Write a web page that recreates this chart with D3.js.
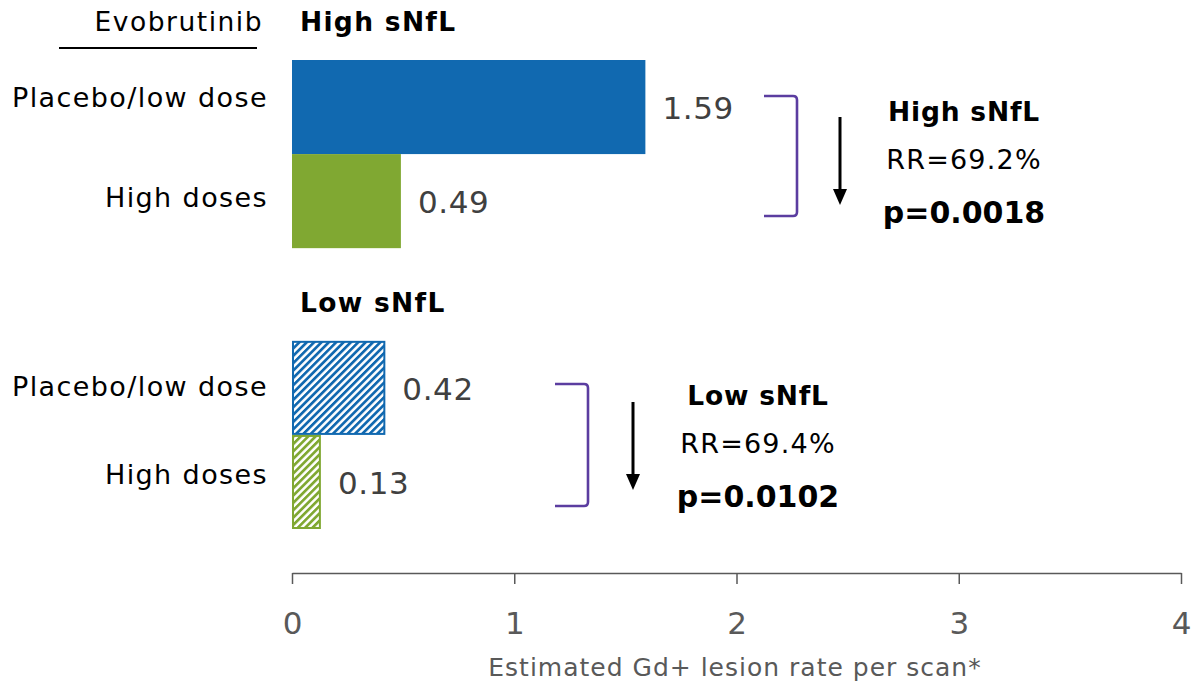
<!DOCTYPE html>
<html><head><meta charset="utf-8">
<script src="https://cdn.jsdelivr.net/npm/d3@7"></script>
<style>body{margin:0;background:#fff}svg{display:block}text{font-family:"DejaVu Sans",Verdana,sans-serif}</style>
</head><body><svg id="c" width="1194" height="682"></svg>
<script>
const groups = ["High sNfL", "Low sNfL"];
const categories = ["Placebo/low dose", "High doses"];
const highValues = [1.59, 0.49];
const lowValues = [0.42, 0.13];
const xTicks = [0, 1, 2, 3, 4];
const stats = [
  {group: "High sNfL", rr: "RR=69.2%", p: "p=0.0018"},
  {group: "Low sNfL", rr: "RR=69.4%", p: "p=0.0102"}
];
const colors = ["#1169b0", "#80a832"];

const svg = d3.select("#c");
const defs = svg.append("defs");
colors.forEach((c, i) => {
  const p = defs.append("pattern").attr("id", "hatch" + i).attr("patternUnits", "userSpaceOnUse")
    .attr("width", 5.2).attr("height", 5.2).attr("patternTransform", "rotate(45)");
  p.append("rect").attr("width", 5.2).attr("height", 5.2).attr("fill", "#fff");
  p.append("rect").attr("width", 2.7).attr("height", 5.2).attr("fill", c);
});

const x = d3.scaleLinear().domain([0, 4]).range([292, 1181]);
const yG = d3.scaleBand().domain(groups).range([60, 529]).paddingInner(0.33).paddingOuter(0);
const yC = d3.scaleBand().domain(categories).range([0, yG.bandwidth()]).padding(0);

const data = [
  {group: groups[0], values: highValues, hatched: false, labelOffsets: [-9, -4]},
  {group: groups[1], values: lowValues, hatched: true, labelOffsets: [-1, -7]}
];

data.forEach(g => {
  const g0 = yG(g.group);
  svg.append("text").attr("x", 300).attr("y", g0 - 38).attr("dy", "0.35em").attr("font-size", 26.5)
    .attr("font-weight", "bold").attr("letter-spacing", 1.3).attr("fill", "#000").text(g.group);
  categories.forEach((c, i) => {
    const v = g.values[i];
    const y0 = g0 + yC(c);
    const h = yC.bandwidth();
    if (g.hatched) {
      svg.append("rect").attr("x", x(0) + 1).attr("y", y0 + 1).attr("width", x(v) - x(0) - 2).attr("height", h - 2)
        .attr("fill", `url(#hatch${i})`).attr("stroke", colors[i]).attr("stroke-width", 2);
    } else {
      svg.append("rect").attr("x", x(0)).attr("y", y0).attr("width", x(v) - x(0)).attr("height", h)
        .attr("fill", colors[i]);
    }
    svg.append("text").attr("x", x(v) + 17).attr("y", y0 + h / 2 + 1).attr("dy", "0.35em")
      .attr("font-size", 31).attr("letter-spacing", 0.6).attr("fill", "#404040").text(v.toFixed(2));
    svg.append("text").attr("x", 268).attr("y", y0 + h / 2 + g.labelOffsets[i]).attr("dy", "0.35em")
      .attr("text-anchor", "end").attr("font-size", 27).attr("letter-spacing", 1.4).attr("fill", "#000").text(c);
  });
});

// header
svg.append("text").attr("x", 263).attr("y", 22).attr("dy", "0.35em").attr("text-anchor", "end")
  .attr("font-size", 26.5).attr("letter-spacing", 1.5).attr("fill", "#000").text("Evobrutinib");
svg.append("line").attr("x1", 59).attr("x2", 257).attr("y1", 48).attr("y2", 48).attr("stroke", "#000").attr("stroke-width", 2);

// brackets, arrows and stats
const annot = [
  {bx: 797, by0: 96, by1: 216, ax: 840, ay0: 117, ay1: 205, tx: 964, ty: 112},
  {bx: 588, by0: 384, by1: 506, ax: 633, ay0: 402, ay1: 490, tx: 758, ty: 396}
];
stats.forEach((s, i) => {
  const a = annot[i];
  const r = 4;
  svg.append("path").attr("fill", "none").attr("stroke", "#5b3da0").attr("stroke-width", 2.6)
    .attr("d", `M${a.bx - 33},${a.by0} L${a.bx - r},${a.by0} Q${a.bx},${a.by0} ${a.bx},${a.by0 + r} L${a.bx},${a.by1 - r} Q${a.bx},${a.by1} ${a.bx - r},${a.by1} L${a.bx - 33},${a.by1}`);
  svg.append("line").attr("x1", a.ax).attr("x2", a.ax).attr("y1", a.ay0).attr("y2", a.ay1 - 14)
    .attr("stroke", "#000").attr("stroke-width", 3);
  svg.append("path").attr("fill", "#000")
    .attr("d", `M${a.ax - 7},${a.ay1 - 16} L${a.ax + 7},${a.ay1 - 16} L${a.ax},${a.ay1} Z`);
  svg.append("text").attr("x", a.tx).attr("y", a.ty).attr("dy", "0.35em").attr("text-anchor", "middle")
    .attr("font-size", 26.5).attr("font-weight", "bold").attr("letter-spacing", 0.8).attr("fill", "#000").text(s.group);
  svg.append("text").attr("x", a.tx).attr("y", a.ty + 48).attr("dy", "0.35em").attr("text-anchor", "middle")
    .attr("font-size", 27).attr("letter-spacing", 1.2).attr("fill", "#000").text(s.rr);
  svg.append("text").attr("x", a.tx).attr("y", a.ty + 100).attr("dy", "0.35em").attr("text-anchor", "middle")
    .attr("font-size", 30).attr("font-weight", "bold").attr("fill", "#000").text(s.p);
});

// axis
const axis = d3.axisBottom(x).tickValues(xTicks).tickFormat(d3.format("d")).tickSize(11).tickSizeOuter(0).tickPadding(28);
const ax = svg.append("g").attr("transform", "translate(0,573)").call(axis);
ax.select(".domain").attr("stroke", "#595959").attr("stroke-width", 1.5);
ax.selectAll(".tick line").attr("stroke", "#595959").attr("stroke-width", 1.5);
ax.selectAll(".tick text").attr("font-family", "'DejaVu Sans Condensed','Liberation Sans Narrow',sans-serif")
  .attr("font-size", 31).attr("fill", "#595959");
svg.append("text").attr("x", 735).attr("y", 667).attr("dy", "0.35em").attr("text-anchor", "middle")
  .attr("font-size", 25).attr("letter-spacing", 1).attr("fill", "#595959")
  .text("Estimated Gd+ lesion rate per scan*");
</script></body></html>
